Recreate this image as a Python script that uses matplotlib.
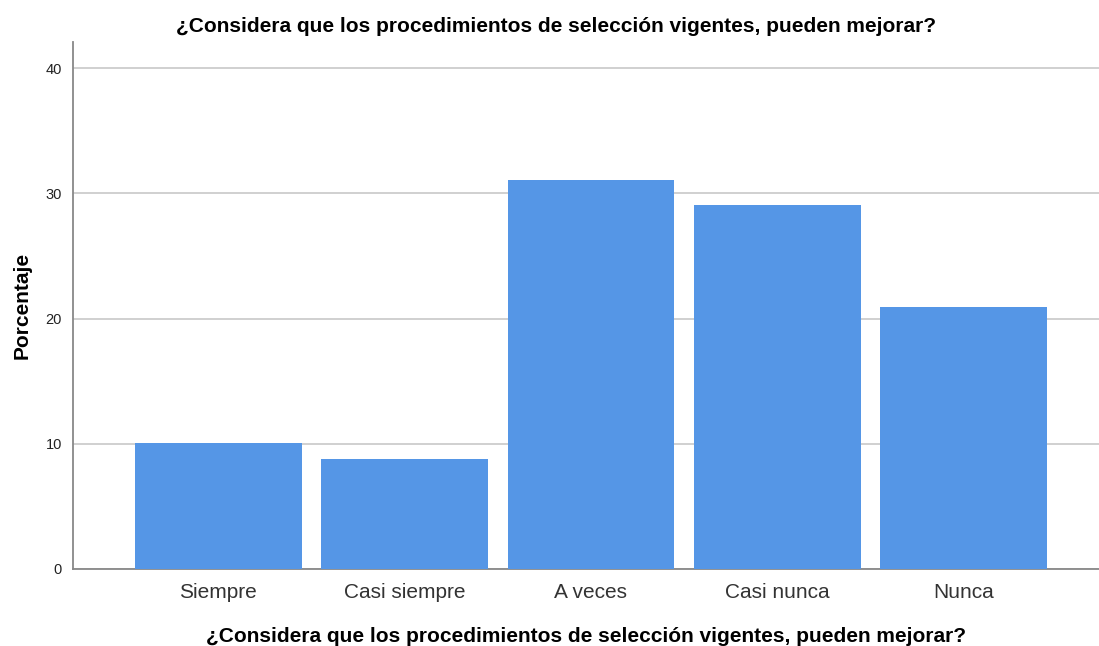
import matplotlib.pyplot as plt

categories = ["Siempre", "Casi siempre", "A veces", "Casi nunca", "Nunca"]
percentages = [10.1, 8.8, 31.1, 29.1, 20.9]
title = "¿Considera que los procedimientos de selección vigentes, pueden mejorar?"

plt.rcParams['font.family'] = ['Liberation Sans', 'DejaVu Sans']

fig = plt.figure(figsize=(10.99, 6.46), dpi=100)
ax = fig.add_axes([73 / 1099, 1 - 569 / 646, 1 - 73 / 1099, (569 - 42) / 646])

x = range(len(categories))
ax.bar(x, percentages, width=0.895, color='#5596E6', zorder=3)

ax.set_xlim(-0.78, 4.727)
ax.set_ylim(0, 42.1)
ax.set_yticks([0, 10, 20, 30, 40])
ax.set_xticks(list(x))
ax.set_xticklabels(categories, fontsize=15, color='#333333')
ax.tick_params(axis='y', length=0, labelsize=10.5, pad=8, labelcolor='#222222')
ax.tick_params(axis='x', length=0, pad=10)
ax.grid(axis='y', color='#c8c8c8', linewidth=1.2, zorder=0)

for side in ['top', 'right']:
    ax.spines[side].set_visible(False)
for side in ['left', 'bottom']:
    ax.spines[side].set_color('#888888')
    ax.spines[side].set_linewidth(1.3)

ax.set_xlabel(title, fontsize=15, fontweight='bold', labelpad=18)
ax.set_ylabel("Porcentaje", fontsize=15, fontweight='bold', labelpad=10)
fig.text(556 / 1099, 1 - 26 / 646, title, fontsize=15, fontweight='bold',
         ha='center', va='center')

fig.savefig("out.png", dpi=100)
